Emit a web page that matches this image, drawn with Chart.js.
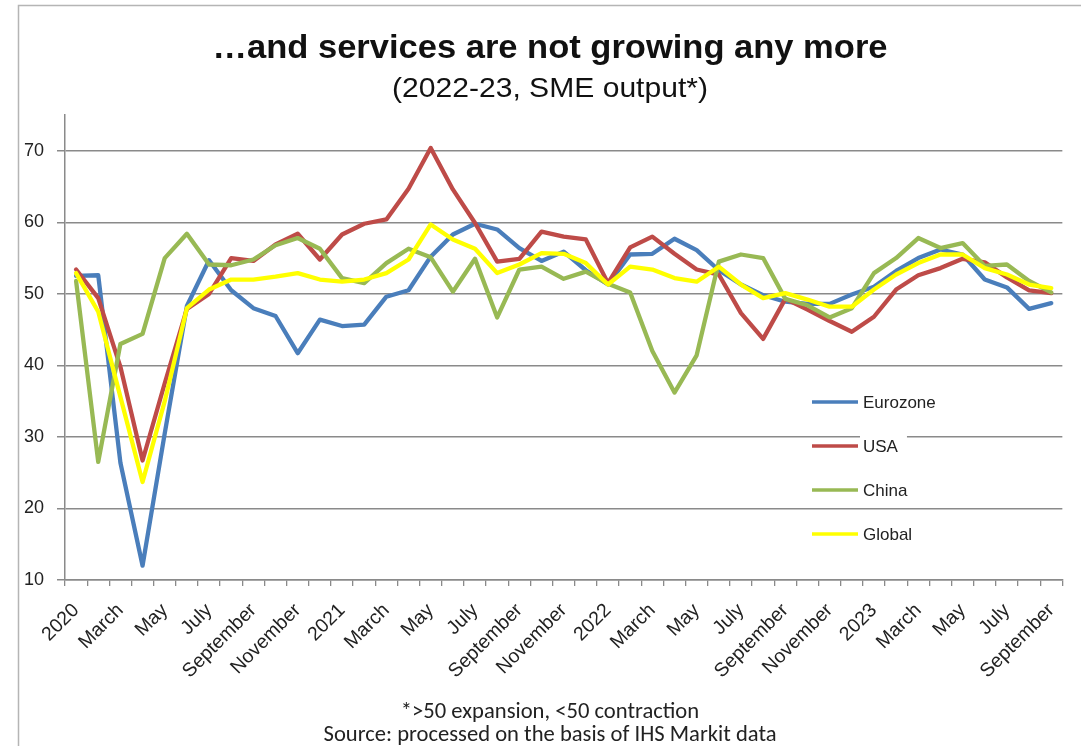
<!DOCTYPE html>
<html>
<head>
<meta charset="utf-8">
<script src="https://cdn.jsdelivr.net/npm/chart.js@4.4.0/dist/chart.umd.min.js"></script>
<style>
  html, body { margin:0; padding:0; background:#fff; }
  #wrap { width:1081px; height:746px; }
</style>
</head>
<body>
<div id="wrap"><canvas id="chart" width="1081" height="746"></canvas></div>
<script>
// monthly, Jan 2020 - Sep 2023
const months = [
  '2020','February','March','April','May','June','July','August','September','October','November','December',
  '2021','February','March','April','May','June','July','August','September','October','November','December',
  '2022','February','March','April','May','June','July','August','September','October','November','December',
  '2023','February','March','April','May','June','July','August','September'
];

const eurozone = [52.5,52.6,26.4,12.0,30.5,48.3,54.7,50.5,48.0,46.9,41.7,46.4,
  45.5,45.7,49.6,50.5,55.2,58.3,59.8,59.0,56.4,54.6,55.9,53.3,
  51.3,55.5,55.6,57.7,56.1,53.3,51.3,49.8,48.9,48.6,48.6,49.9,
  51.0,53.2,55.0,56.2,55.5,52.0,50.9,47.9,48.7];
const usa = [53.4,49.4,39.8,26.7,37.5,47.9,50.0,55.0,54.6,56.9,58.4,54.8,
  58.3,59.8,60.4,64.7,70.4,64.6,59.9,54.5,54.9,58.7,58.0,57.6,
  51.5,56.5,58.0,55.6,53.4,52.7,47.3,43.7,49.3,47.8,46.2,44.7,
  46.8,50.6,52.6,53.6,54.9,54.4,52.3,50.5,50.1];
const china = [51.8,26.5,43.0,44.4,55.0,58.4,54.1,54.0,54.8,56.8,57.8,56.3,
  52.2,51.5,54.3,56.3,55.1,50.3,54.9,46.7,53.4,53.8,52.1,53.1,
  51.4,50.2,42.0,36.2,41.4,54.5,55.5,55.0,49.3,48.4,46.7,48.0,
  52.9,55.0,57.8,56.4,57.1,53.9,54.1,51.8,50.2];
const global = [52.9,47.5,35.6,23.7,35.0,48.0,50.6,52.0,52.0,52.4,52.9,52.0,
  51.7,52.0,52.9,54.8,59.7,57.6,56.3,52.9,54.1,55.7,55.6,54.3,
  51.3,53.8,53.4,52.2,51.7,53.8,51.3,49.4,50.1,49.2,48.2,48.2,
  50.6,52.7,54.3,55.5,55.5,53.6,52.7,51.3,50.8];

const yTicks = [10,20,30,40,50,60,70];

const titleText = '\u2026and services are not growing any more';
const subtitleText = '(2022-23, SME output*)';
const footerLines = ['*>50 expansion, <50 contraction', 'Source: processed on the basis of IHS Markit data'];

const GRID = '#8a8a8a';
const ARIAL = '"Liberation Sans", Arial, sans-serif';

// draw text stretched/squeezed horizontally so it spans a given width
function fitted(ctx, text, x, y, font, width, ratioFrom) {
  ctx.font = font;
  const w = ctx.measureText(ratioFrom || text).width;
  ctx.save();
  ctx.translate(x, y);
  ctx.scale(width / w, 1);
  ctx.fillText(text, 0, 0);
  ctx.restore();
}

const decor = {
  id: 'decor',
  beforeDraw(chart) {
    const ctx = chart.ctx;
    ctx.save();
    ctx.fillStyle = '#fff';
    ctx.fillRect(0, 0, chart.width, chart.height);
    ctx.strokeStyle = '#b5b5b5';
    ctx.lineWidth = 1.5;
    ctx.strokeRect(18.5, 5.5, chart.width + 20, chart.height + 20);
    ctx.restore();
  },
  afterDraw(chart) {
    const ctx = chart.ctx;
    ctx.save();
    ctx.textAlign = 'center';
    ctx.textBaseline = 'middle';
    ctx.fillStyle = '#111';
    fitted(ctx, titleText, 550, 49, 'bold 33px ' + ARIAL, 675);
    fitted(ctx, subtitleText, 550, 89, '28px ' + ARIAL, 316);

    ctx.fillStyle = '#222';
    const ff = '22.5px Carlito, Lato, "Open Sans", sans-serif';
    fitted(ctx, footerLines[0], 550, 712, ff, 453, footerLines[1]);
    fitted(ctx, footerLines[1], 550, 735, ff, 453);

    // legend inside the plot
    ctx.textAlign = 'left';
    ctx.font = '17px ' + ARIAL;
    chart.data.datasets.forEach((ds, i) => {
      const y = 402 + i * 44;
      const tw = ctx.measureText(ds.label).width;
      ctx.fillStyle = '#fff';
      ctx.fillRect(860, y - 11, tw + 12, 22);
      ctx.strokeStyle = ds.borderColor;
      ctx.lineWidth = 3.5;
      ctx.beginPath();
      ctx.moveTo(812, y);
      ctx.lineTo(858, y);
      ctx.stroke();
      ctx.fillStyle = '#222';
      ctx.fillText(ds.label, 863, y + 1);
    });
    ctx.restore();
  }
};

const mk = (label, data, color, order) => ({
  label, data, borderColor: color, backgroundColor: color,
  borderWidth: 4.3, pointRadius: 0, tension: 0, order,
  borderJoinStyle: 'round', borderCapStyle: 'round'
});

new Chart(document.getElementById('chart'), {
  type: 'line',
  data: {
    labels: months,
    datasets: [
      mk('Eurozone', eurozone, '#4a7ebb', 4),
      mk('USA', usa, '#be4b48', 3),
      mk('China', china, '#98b954', 2),
      mk('Global', global, '#ffff00', 1)
    ]
  },
  plugins: [decor],
  options: {
    responsive: false,
    animation: false,
    layout: { padding: { top: 115, right: 17, bottom: 0, left: 0 } },
    plugins: { legend: { display: false }, title: { display: false }, tooltip: { enabled: false } },
    scales: {
      x: {
        type: 'category',
        offset: true,
        afterFit(s) { s.height = 166; },
        grid: { offset: true, drawOnChartArea: false, drawTicks: true, tickLength: 6, color: GRID, lineWidth: 1.3 },
        border: { display: true, color: GRID, width: 1.5 },
        ticks: {
          autoSkip: false, minRotation: 45, maxRotation: 45, padding: 13,
          color: '#222', font: { family: ARIAL, size: 19.5 },
          callback(v, i) { return i % 2 === 0 ? months[i] : ''; }
        }
      },
      y: {
        min: 10, max: 75,
        afterFit(s) { s.width = 65; },
        afterBuildTicks(s) { s.ticks = yTicks.map(v => ({ value: v })); },
        grid: { color: GRID, lineWidth: 1.5, drawTicks: true, tickLength: 8 },
        border: { display: true, color: GRID, width: 1.5 },
        ticks: {
          padding: 13, color: '#222',
          font: { family: ARIAL, size: 18 }
        }
      }
    }
  }
});
</script>
</body>
</html>
